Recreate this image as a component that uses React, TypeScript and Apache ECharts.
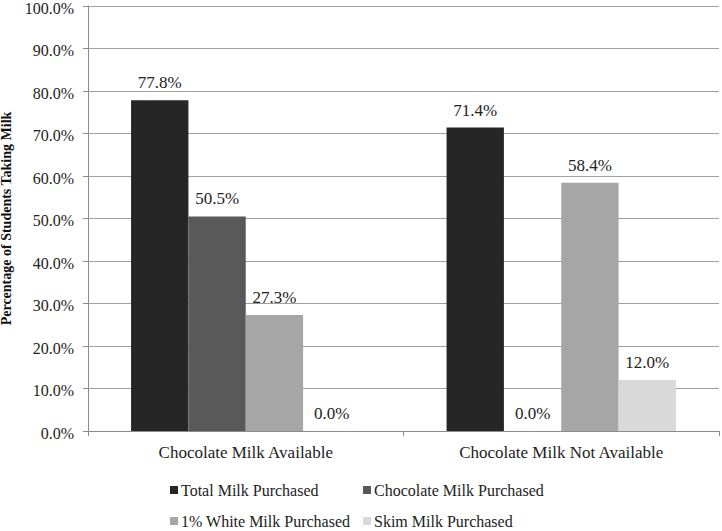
import React, { useEffect, useRef } from "react";
import * as echarts from "echarts";

const categories = ["Chocolate Milk Available", "Chocolate Milk Not Available"];
const seriesNames = [
  "Total Milk Purchased",
  "Chocolate Milk Purchased",
  "1% White Milk Purchased",
  "Skim Milk Purchased",
];
const totalMilk = [77.8, 71.4];
const chocolateMilk = [50.5, 0.0];
const whiteMilk = [27.3, 58.4];
const skimMilk = [0.0, 12.0];
const colors = ["#262626", "#595959", "#a6a6a6", "#d9d9d9"];

const FONT = "Liberation Serif";

export default function App() {
  const ref = useRef<HTMLDivElement>(null);
  useEffect(() => {
    if (!ref.current) return;
    const chart = echarts.init(ref.current, undefined, { renderer: "svg" });
    const values = [totalMilk, chocolateMilk, whiteMilk, skimMilk];
    const legendPos = [
      { left: 170, top: 482 },
      { left: 363, top: 482 },
      { left: 170, top: 513 },
      { left: 363, top: 513 },
    ];
    chart.setOption({
      animation: false,
      textStyle: { fontFamily: FONT },
      grid: {
        left: 88,
        right: 3,
        top: 6,
        bottom: 100,
        containLabel: false,
        outerBoundsMode: "none",
      },
      legend: seriesNames.map((n, i) => ({
        data: [n],
        left: legendPos[i].left,
        top: legendPos[i].top,
        itemWidth: 8,
        itemHeight: 8,
        itemGap: 4,
        icon: "rect",
        padding: 0,
        textStyle: { fontFamily: FONT, fontSize: 16, color: "#222", padding: [0, 0, 0, -2] },
        selectedMode: false,
      })),
      xAxis: {
        type: "category",
        data: categories,
        axisLine: { lineStyle: { color: "#8c8c8c", width: 1 } },
        axisTick: { show: true, length: 5, lineStyle: { color: "#8c8c8c" } },
        axisLabel: { fontFamily: FONT, fontSize: 17, color: "#222", margin: 13 },
      },
      yAxis: {
        type: "value",
        min: 0,
        max: 100,
        interval: 10,
        name: "Percentage of Students Taking Milk",
        nameLocation: "middle",
        nameGap: 71,
        nameTextStyle: { fontFamily: FONT, fontSize: 14, fontWeight: "bold", color: "#111" },
        axisLine: { show: true, lineStyle: { color: "#8c8c8c", width: 1 } },
        axisTick: { show: true, length: 5, inside: false, lineStyle: { color: "#8c8c8c" } },
        splitLine: { lineStyle: { color: "#a0a0a0", width: 1 } },
        axisLabel: {
          fontFamily: FONT,
          fontSize: 16,
          color: "#222",
          margin: 14,
          verticalAlign: "top",
          padding: [-6, 0, 0, 0],
          formatter: (v: number) => v.toFixed(1) + "%",
        },
      },
      series: seriesNames.map((n, i) => ({
        name: n,
        type: "bar",
        data: values[i],
        barGap: "0%",
        barCategoryGap: "27.3%",
        itemStyle: { color: colors[i] },
        label: {
          show: true,
          position: "top",
          distance: 9,
          fontFamily: FONT,
          fontSize: 17,
          color: "#222",
          formatter: (p: any) => Number(p.value).toFixed(1) + "%",
        },
      })),
    });
    return () => chart.dispose();
  }, []);
  return (
    <div
      ref={ref}
      style={{ position: "fixed", left: 0, top: 0, width: 722, height: 531, background: "#fff" }}
    />
  );
}
